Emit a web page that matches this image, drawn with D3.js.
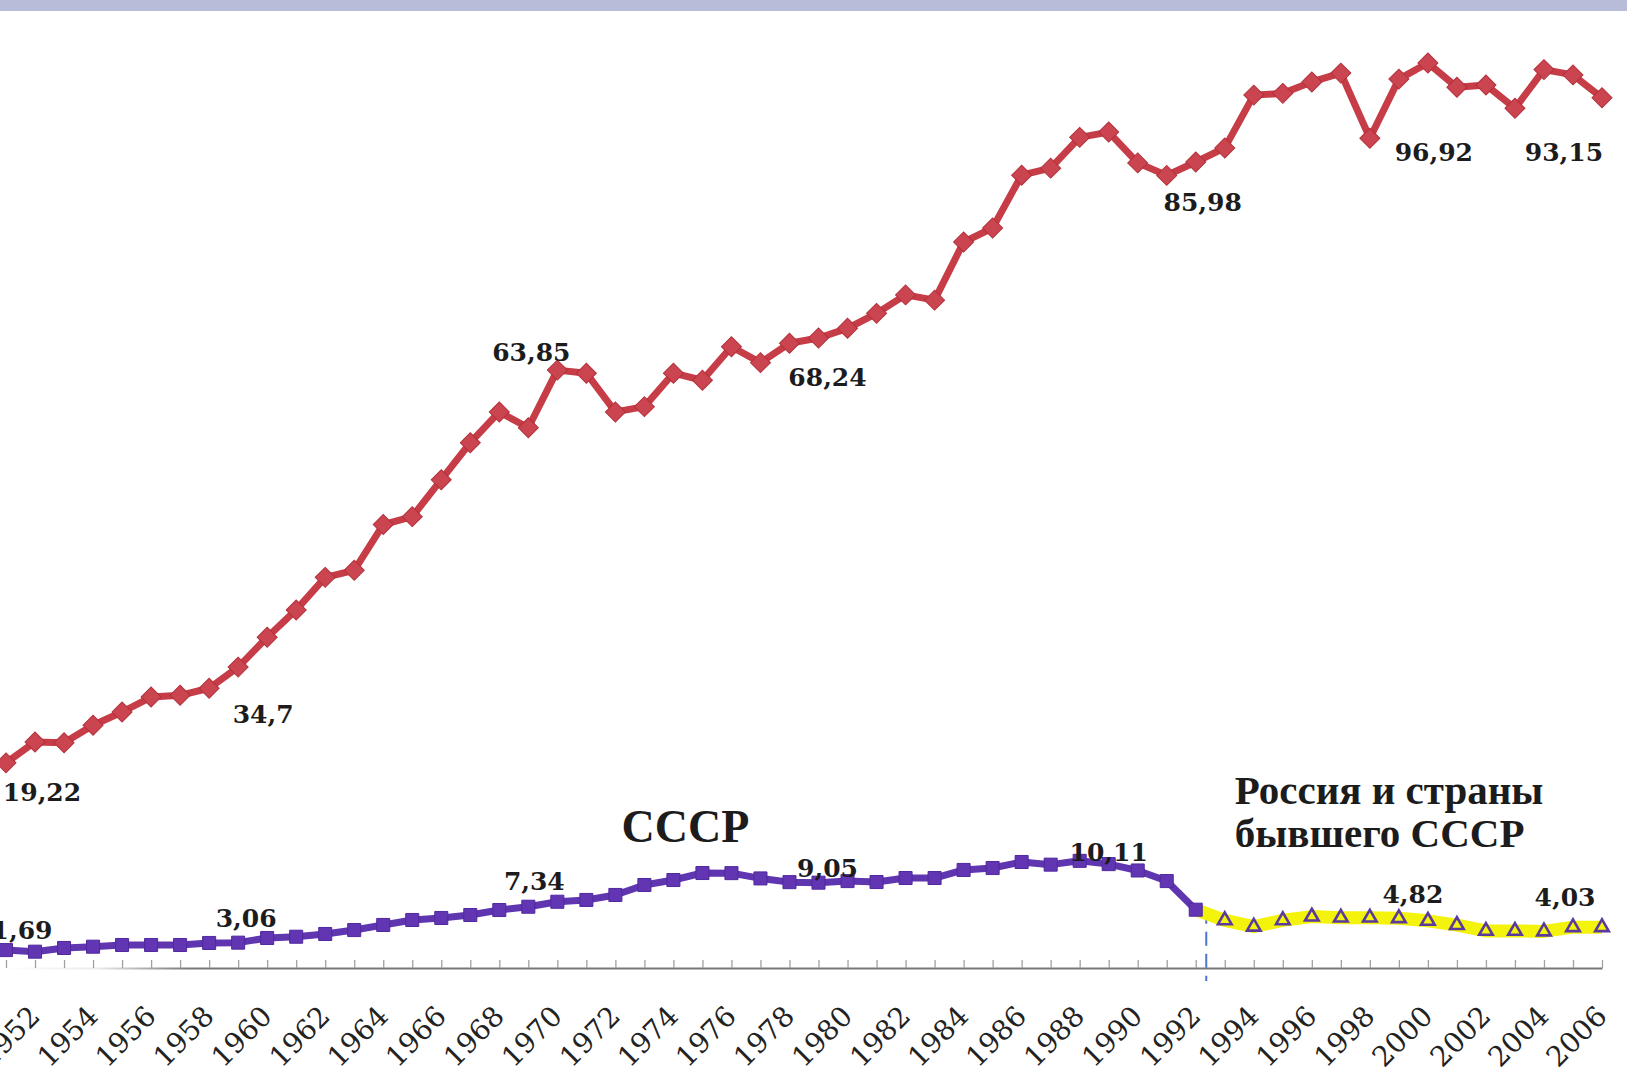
<!DOCTYPE html>
<html>
<head>
<meta charset="utf-8">
<script src="https://cdn.jsdelivr.net/npm/d3@7"></script>
<style>
  body { margin: 0; background: #fff; }
  svg { display: block; }
  .axis path.domain { stroke: url(#axisFade); stroke-width: 2; }
  .axis .tick line { stroke: #a0a0a0; stroke-width: 1.3; }
  .axis .tick text { font-family: 'DejaVu Serif', Georgia, serif; font-size: 28px; fill: #222; }
  .val { font-family: 'DejaVu Serif', Georgia, serif; font-size: 25px; font-weight: bold; fill: #1c1c1c; }
  .note { font-family: 'Liberation Serif', 'Times New Roman', serif; font-weight: bold; fill: #1c1c1c; }
</style>
</head>
<body>
<svg id="chart"></svg>
<script>
(function() {
  'use strict';
  const width = 1627;
  const height = 1080;

  // years on the category axis
  const years = [1951, 1952, 1953, 1954, 1955, 1956, 1957, 1958, 1959, 1960,
    1961, 1962, 1963, 1964, 1965, 1966, 1967, 1968, 1969, 1970,
    1971, 1972, 1973, 1974, 1975, 1976, 1977, 1978, 1979, 1980,
    1981, 1982, 1983, 1984, 1985, 1986, 1987, 1988, 1989, 1990,
    1991, 1992, 1993, 1994, 1995, 1996, 1997, 1998, 1999, 2000,
    2001, 2002, 2003, 2004, 2005, 2006];

  // red series (right scale)
  const worldValues = [19.22, 21.6, 21.5, 23.5, 25.0, 26.7, 26.9, 27.7, 30.1, 33.5,
    36.6, 40.3, 41.1, 46.3, 47.2, 51.4, 55.6, 59.1, 57.3, 63.85,
    63.5, 59.1, 59.7, 63.5, 62.7, 66.5, 64.7, 66.9, 67.5, 68.6,
    70.3, 72.4, 71.8, 78.4, 80.0, 86.0, 86.8, 90.3, 90.9, 87.4,
    85.98, 87.5, 89.1, 95.1, 95.3, 96.6, 97.6, 90.2, 96.92, 98.75,
    96.0, 96.25, 93.6, 98.0, 97.4, 94.8];

  // USSR (purple) and Russia + former USSR (yellow), left scale
  const ussrYears = [1951, 1952, 1953, 1954, 1955, 1956, 1957, 1958, 1959, 1960,
    1961, 1962, 1963, 1964, 1965, 1966, 1967, 1968, 1969, 1970,
    1971, 1972, 1973, 1974, 1975, 1976, 1977, 1978, 1979, 1980,
    1981, 1982, 1983, 1984, 1985, 1986, 1987, 1988, 1989, 1990,
    1991, 1992];
  const ussrValues = [1.69, 1.54, 1.89, 2.01, 2.17, 2.17, 2.17, 2.36, 2.39, 2.83,
    2.95, 3.21, 3.58, 4.06, 4.53, 4.72, 5.0, 5.47, 5.78, 6.25,
    6.42, 6.89, 7.83, 8.3, 8.96, 8.95, 8.45, 8.1, 8.05, 8.2,
    8.11, 8.49, 8.49, 9.25, 9.43, 10.0, 9.75, 10.11, 9.8, 9.2,
    8.2, 5.5];
  const cisYears = [1993, 1994, 1995, 1996, 1997, 1998, 1999, 2000, 2001, 2002,
    2003, 2004, 2005, 2006];
  const cisValues = [4.5, 3.9, 4.5, 4.85, 4.75, 4.75, 4.7, 4.45, 4.05, 3.5,
    3.5, 3.45, 3.85, 3.85];

  // data labels
  const worldLabelYears = [1951, 1960, 1970, 1979, 1991, 1999, 2003];
  const worldLabelTexts = ['19,22', '34,7', '63,85', '68,24', '85,98', '96,92', '93,15'];
  const ussrLabelYears = [1951, 1960, 1969, 1979, 1989];
  const ussrLabelTexts = ['1,69', '3,06', '7,34', '9,05', '10,11'];
  const cisLabelYears = [1999, 2005];
  const cisLabelTexts = ['4,82', '4,03'];

  // label offsets from their point (layout only)
  const worldLabelShift = [[36, 38], [-4, 86], [-26, -9], [9, 48], [36, 36], [35, 82], [49, 53]];
  const ussrLabelShift = [[16, -11], [-21, -11], [6, -17], [9, -6], [0, -3]];
  const cisLabelShift = [[14, -15], [-8, -21]];

  const x = d3.scalePoint().domain(years).range([6, 1602]);
  const yWorld = d3.scaleLinear().domain([0, 100]).range([932, 52]);
  const yUssr = d3.scaleLinear().domain([0, 10]).range([968, 862]);
  const axisY = yUssr(0);

  const svg = d3.select('#chart')
    .attr('width', width)
    .attr('height', height);

  const defs = svg.append('defs');
  const grad = defs.append('linearGradient')
    .attr('id', 'axisFade')
    .attr('gradientUnits', 'userSpaceOnUse')
    .attr('x1', 0).attr('x2', 270).attr('y1', 0).attr('y2', 0);
  grad.append('stop').attr('offset', 0).attr('stop-color', '#777').attr('stop-opacity', 0);
  grad.append('stop').attr('offset', 0.36).attr('stop-color', '#777').attr('stop-opacity', 0.15);
  grad.append('stop').attr('offset', 0.7).attr('stop-color', '#777').attr('stop-opacity', 1);

  svg.append('rect')
    .attr('width', width)
    .attr('height', height)
    .attr('fill', '#fff');

  // band along the top edge
  svg.append('rect')
    .attr('width', width)
    .attr('height', 11)
    .attr('fill', '#b7bcd9');

  // x axis
  const axis = d3.axisBottom(x)
    .tickValues(years)
    .tickSize(-8)
    .tickSizeOuter(0)
    .tickFormat(d => d % 2 === 0 ? d : '');

  const gx = svg.append('g')
    .attr('class', 'axis')
    .attr('transform', `translate(0,${axisY})`)
    .call(axis);

  gx.selectAll('.tick text')
    .attr('x', 0)
    .attr('y', 0)
    .attr('dy', 0)
    .attr('text-anchor', 'end')
    .attr('transform', 'translate(6,50) rotate(-45)');

  // divider between the USSR and post-USSR periods
  const split = (x(1992) + x(1993)) / 2 - 4;
  svg.append('line')
    .attr('x1', split).attr('x2', split)
    .attr('y1', yUssr(5.5)).attr('y2', axisY + 13)
    .attr('stroke', '#4f74cf')
    .attr('stroke-width', 2)
    .attr('stroke-dasharray', '14,8');

  // red series
  const worldData = years.map((yr, i) => ({year: yr, value: worldValues[i]}));
  svg.append('path')
    .datum(worldData)
    .attr('fill', 'none')
    .attr('stroke', '#c63c47')
    .attr('stroke-width', 7)
    .attr('stroke-linejoin', 'round')
    .attr('d', d3.line().x(d => x(d.year)).y(d => yWorld(d.value)));

  svg.selectAll('.wmark')
    .data(worldData)
    .enter()
    .append('path')
    .attr('class', 'wmark')
    .attr('d', d3.symbol(d3.symbolSquare, 200))
    .attr('transform', d => `translate(${x(d.year)},${yWorld(d.value)}) rotate(45)`)
    .attr('fill', '#cb4550')
    .attr('stroke', '#b3303b')
    .attr('stroke-width', 1);

  // yellow series, starting from the last USSR point
  const ussrData = ussrYears.map((yr, i) => ({year: yr, value: ussrValues[i]}));
  const cisData = cisYears.map((yr, i) => ({year: yr, value: cisValues[i]}));
  const lineUssr = d3.line().x(d => x(d.year)).y(d => yUssr(d.value));

  svg.append('path')
    .datum([ussrData[ussrData.length - 1]].concat(cisData))
    .attr('fill', 'none')
    .attr('stroke', '#f3f30c')
    .attr('stroke-width', 13)
    .attr('stroke-linejoin', 'round')
    .attr('d', lineUssr);

  svg.selectAll('.cmark')
    .data(cisData)
    .enter()
    .append('path')
    .attr('class', 'cmark')
    .attr('d', d3.symbol(d3.symbolTriangle, 80))
    .attr('transform', d => `translate(${x(d.year)},${yUssr(d.value)})`)
    .attr('fill', '#f3f30c')
    .attr('stroke', '#5b3a9e')
    .attr('stroke-width', 2.6);

  // purple series
  svg.append('path')
    .datum(ussrData)
    .attr('fill', 'none')
    .attr('stroke', '#6035b0')
    .attr('stroke-width', 7)
    .attr('stroke-linejoin', 'round')
    .attr('d', lineUssr);

  svg.selectAll('.umark')
    .data(ussrData)
    .enter()
    .append('path')
    .attr('class', 'umark')
    .attr('d', d3.symbol(d3.symbolSquare, 170))
    .attr('transform', d => `translate(${x(d.year)},${yUssr(d.value)})`)
    .attr('fill', '#6236b2')
    .attr('stroke', '#5028a0')
    .attr('stroke-width', 1);

  // value labels
  const valueAt = (yrs, vals, yr) => vals[yrs.indexOf(yr)];

  svg.selectAll('.wlab')
    .data(worldLabelYears)
    .enter()
    .append('text')
    .attr('class', 'val')
    .attr('text-anchor', 'middle')
    .attr('x', (d, i) => x(d) + worldLabelShift[i][0])
    .attr('y', (d, i) => yWorld(valueAt(years, worldValues, d)) + worldLabelShift[i][1])
    .text((d, i) => worldLabelTexts[i]);

  svg.selectAll('.ulab')
    .data(ussrLabelYears)
    .enter()
    .append('text')
    .attr('class', 'val')
    .attr('text-anchor', 'middle')
    .attr('x', (d, i) => x(d) + ussrLabelShift[i][0])
    .attr('y', (d, i) => yUssr(valueAt(ussrYears, ussrValues, d)) + ussrLabelShift[i][1])
    .text((d, i) => ussrLabelTexts[i]);

  svg.selectAll('.clab')
    .data(cisLabelYears)
    .enter()
    .append('text')
    .attr('class', 'val')
    .attr('text-anchor', 'middle')
    .attr('x', (d, i) => x(d) + cisLabelShift[i][0])
    .attr('y', (d, i) => yUssr(valueAt(cisYears, cisValues, d)) + cisLabelShift[i][1])
    .text((d, i) => cisLabelTexts[i]);

  // series names
  svg.append('text')
    .attr('class', 'note')
    .attr('text-anchor', 'middle')
    .attr('x', x(1975) - 17)
    .attr('y', axisY - 126)
    .style('font-size', '46px')
    .text('СССР');

  const cisNote = svg.append('text')
    .attr('class', 'note')
    .style('font-size', '41px');
  cisNote.append('tspan')
    .attr('x', x(1993) + 10)
    .attr('y', axisY - 164)
    .text('Россия и страны');
  cisNote.append('tspan')
    .attr('x', x(1993) + 10)
    .attr('y', axisY - 121)
    .text('бывшего СССР');
})();
</script>
</body>
</html>
